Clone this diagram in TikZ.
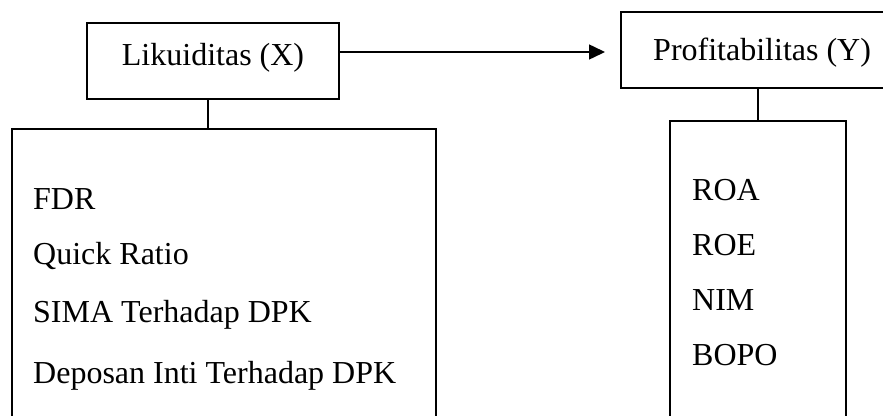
\documentclass[tikz,border=0pt]{standalone}
\usepackage{fontspec}
\setmainfont{Liberation Serif}
\usetikzlibrary{arrows.meta}
\begin{document}
\begin{tikzpicture}[x=1pt,y=-1pt,
  box/.style={draw,line width=1.5pt,rectangle,inner sep=0pt},
  lbl/.style={inner sep=0pt,font=\fontsize{32}{38}\selectfont},
  conn/.style={line width=1.5pt}]
\useasboundingbox (0,0) rectangle (883,415);
% boxes
\node[box,minimum width=252pt,minimum height=76pt] (lx) at (213,61) {};
\node[box,minimum width=274pt,minimum height=76pt] (py) at (758,50) {};
\node[box,minimum width=424pt,minimum height=301pt] (lb) at (224,279.5) {};
\node[box,minimum width=176pt,minimum height=309pt] (rb) at (758,275.5) {};
% titles
\node[lbl,anchor=base] (lxt) at (213,65) {Likuiditas (X)};
\node[lbl,anchor=base west] (pyt) at (653,60) {Profitabilitas (Y)};
% left list
\node[lbl,anchor=base west] (l1) at (33,209) {FDR};
\node[lbl,anchor=base west] (l2) at (33,264) {Quick Ratio};
\node[lbl,anchor=base west] (l3) at (33,322) {SIMA Terhadap DPK};
\node[lbl,anchor=base west] (l4) at (33,383) {Deposan Inti Terhadap DPK};
% right list
\node[lbl,anchor=base west] (r1) at (692,200) {ROA};
\node[lbl,anchor=base west] (r2) at (692,255) {ROE};
\node[lbl,anchor=base west] (r3) at (692,310) {NIM};
\node[lbl,anchor=base west] (r4) at (692,365) {BOPO};
% connectors
\coordinate (tip) at (605,52);
\draw[conn,-{Triangle[length=16pt,width=15pt]}] (tip -| lx.east) -- (tip);
\draw[conn] ([xshift=-5pt]lx.south) -- ([xshift=-5pt]lx.south |- lb.north);
\draw[conn] (py.south) -- (py.south |- rb.north);
\end{tikzpicture}
\end{document}
